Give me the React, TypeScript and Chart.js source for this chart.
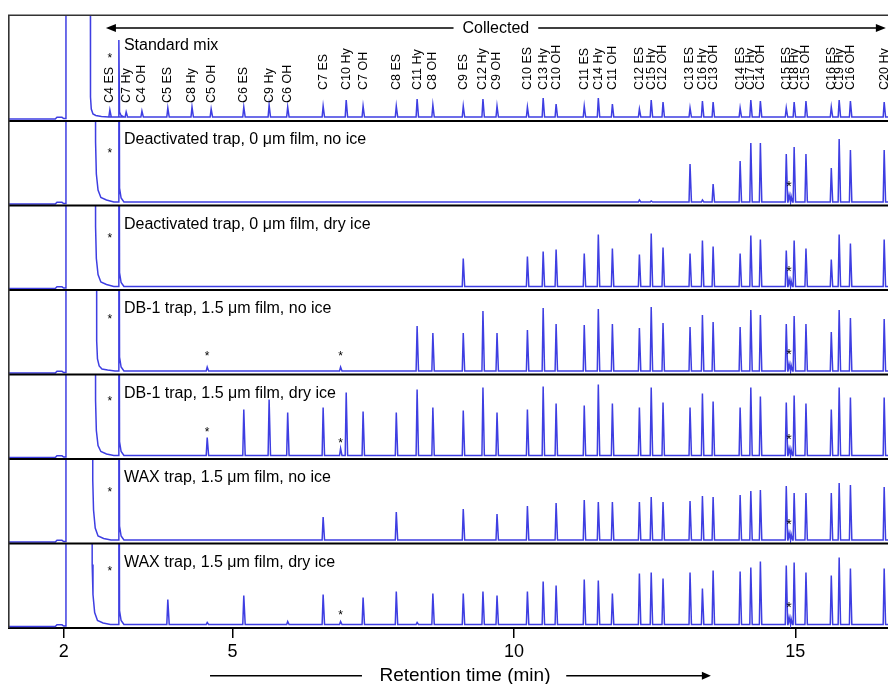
import React, { useEffect, useRef } from "react";
import { Chart, registerables } from "chart.js";

Chart.register(...registerables);

// ---------------- data ----------------
const PANEL_TITLES = [
  "Standard mix",
  "Deactivated trap, 0 \u03bcm film, no ice",
  "Deactivated trap, 0 \u03bcm film, dry ice",
  "DB-1 trap, 1.5 \u03bcm film, no ice",
  "DB-1 trap, 1.5 \u03bcm film, dry ice",
  "WAX trap, 1.5 \u03bcm film, no ice",
  "WAX trap, 1.5 \u03bcm film, dry ice",
];

const COMPOUNDS = [
  "C4 ES", "C7 Hy", "C4 OH", "C5 ES", "C8 Hy", "C5 OH", "C6 ES", "C9 Hy", "C6 OH",
  "C7 ES", "C10 Hy", "C7 OH", "C8 ES", "C11 Hy", "C8 OH", "C9 ES", "C12 Hy", "C9 OH",
  "C10 ES", "C13 Hy", "C10 OH", "C11 ES", "C14 Hy", "C11 OH", "C12 ES", "C15 Hy", "C12 OH",
  "C13 ES", "C16 Hy", "C13 OH", "C14 ES", "C17 Hy", "C14 OH", "C15 ES", "C18 Hy", "C15 OH",
  "C16 ES", "C19 Hy", "C16 OH", "C20 Hy",
];

// retention times (min)
const RETENTION = [
  2.82, 3.11, 3.39, 3.85, 4.28, 4.62, 5.2, 5.65, 5.98,
  6.61, 7.02, 7.32, 7.91, 8.28, 8.56, 9.1, 9.45, 9.7,
  10.24, 10.52, 10.75, 11.25, 11.5, 11.75, 12.23, 12.44, 12.65,
  13.13, 13.35, 13.54, 14.02, 14.21, 14.38, 14.84, 14.98, 15.19,
  15.64, 15.78, 15.98, 16.58,
];

// peak heights per trace (signal units), aligned with COMPOUNDS
const H_STANDARD = [7, 5, 6, 9, 10, 8, 10, 12, 10, 11, 17, 11, 11, 18, 12, 11, 18, 11, 10, 19, 13, 11, 19, 13, 8, 17, 15, 9, 16, 15, 9, 17, 16, 9, 15, 16, 10, 17, 16, 15];
const H_DEACT_NOICE = [0, 0, 0, 0, 0, 0, 0, 0, 0, 0, 0, 0, 0, 0, 0, 0, 0, 0, 0, 0, 0, 0, 0, 0, 2, 1, 0, 38, 2, 18, 41, 59, 59, 48, 55, 48, 34, 63, 52, 52];
const H_DEACT_DRY = [0, 0, 0, 0, 0, 0, 0, 0, 0, 0, 0, 0, 0, 0, 0, 28, 0, 0, 30, 35, 37, 33, 52, 38, 32, 53, 39, 33, 46, 40, 33, 51, 47, 36, 46, 38, 27, 52, 43, 47];
const H_DB1_NOICE = [0, 0, 0, 0, 0, 0, 0, 0, 0, 0, 0, 0, 0, 45, 38, 38, 60, 38, 41, 63, 47, 46, 62, 47, 43, 64, 48, 44, 56, 49, 44, 61, 56, 47, 55, 47, 39, 61, 53, 52];
const H_DB1_DRY = [0, 0, 0, 0, 0, 0, 46, 56, 43, 48, 63, 44, 43, 66, 48, 45, 68, 43, 46, 69, 52, 50, 71, 52, 48, 68, 53, 48, 62, 54, 48, 68, 59, 53, 60, 52, 46, 68, 58, 58];
const H_WAX_NOICE = [0, 0, 0, 0, 0, 0, 0, 0, 0, 23, 0, 0, 28, 0, 0, 31, 0, 26, 34, 0, 37, 40, 38, 38, 38, 43, 38, 39, 44, 43, 45, 49, 50, 54, 47, 47, 47, 57, 55, 53];
const H_WAX_DRY = [0, 0, 0, 25, 0, 0, 29, 0, 3, 30, 0, 27, 33, 2, 31, 31, 33, 29, 33, 43, 39, 45, 44, 31, 51, 52, 46, 52, 36, 54, 53, 57, 63, 59, 62, 52, 49, 67, 56, 56];

// unlabelled (asterisked) peaks: [time, height]
const ART_STANDARD: number[][] = [];
const ART_DEACT_NOICE = [[14.89, 7], [14.925, 6]];
const ART_DEACT_DRY = [[14.89, 7], [14.925, 6]];
const ART_DB1_NOICE = [[4.55, 4], [6.92, 4], [14.89, 7], [14.925, 6]];
const ART_DB1_DRY = [[4.55, 18], [6.92, 7], [14.89, 7], [14.925, 6]];
const ART_WAX_NOICE = [[14.89, 7], [14.925, 6]];
const ART_WAX_DRY = [[4.55, 2], [6.92, 3], [14.89, 7], [14.925, 6]];

// asterisk markers: [time, height above baseline]
const MARK_STANDARD = [[2.82, 62]];
const MARK_DEACT_NOICE = [[2.82, 52], [14.89, 19]];
const MARK_DEACT_DRY = [[2.82, 51], [14.89, 18]];
const MARK_DB1_NOICE = [[2.82, 55], [4.55, 18], [6.92, 18], [14.89, 20]];
const MARK_DB1_DRY = [[2.82, 57], [4.55, 26], [6.92, 15], [14.89, 19]];
const MARK_WAX_NOICE = [[2.82, 51], [14.89, 19]];
const MARK_WAX_DRY = [[2.82, 56], [6.92, 12], [14.89, 20]];

// solvent front: baseline before injection peak, then off-scale until SOLVENT_END, then tail
const PRE_T = [1.0, 1.85, 1.88, 1.97, 2.0, 2.035];
const PRE_H = [-2, -2, -0.3, -0.3, -1.5, -1.5];
const SOLVENT_START = 2.04;
const SOLVENT_END = [2.47, 2.56, 2.56, 2.58, 2.56, 2.51, 2.5];
const TAIL_DT = [0.006, 0.02, 0.05, 0.1, 0.2, 0.33];
const SOLVENT_TAIL = [
  [20, 8, 3, 1.5, 0.5, 0],
  [60, 28, 12, 4.5, 2, 0],
  [60, 28, 12, 4.5, 2, 0],
  [30, 12, 5, 2, 1, 0],
  [55, 25, 10, 4, 1.5, 0],
  [60, 30, 12, 4, 1.5, 0],
  [60, 30, 12, 4, 1.5, 0],
];
const SPIKE_T = 2.98;
const SPIKE_H = [77, 300, 300, 300, 300, 300, 300];
const SPIKE_DT = [0.012, 0.04, 0.09];
const SPIKE_TAIL = [
  [5, 1.5, 0],
  [14, 4, 0],
  [14, 4, 0],
  [14, 4, 0],
  [14, 4, 0],
  [14, 4, 0],
  [14, 4, 0],
];

const HEIGHTS = [H_STANDARD, H_DEACT_NOICE, H_DEACT_DRY, H_DB1_NOICE, H_DB1_DRY, H_WAX_NOICE, H_WAX_DRY];
const ARTIFACTS = [ART_STANDARD, ART_DEACT_NOICE, ART_DEACT_DRY, ART_DB1_NOICE, ART_DB1_DRY, ART_WAX_NOICE, ART_WAX_DRY];
const MARKS = [MARK_STANDARD, MARK_DEACT_NOICE, MARK_DEACT_DRY, MARK_DB1_NOICE, MARK_DB1_DRY, MARK_WAX_NOICE, MARK_WAX_DRY];

const X_TICKS = [2, 5, 10, 15];
const X_TITLE = "Retention time (min)";
const COLLECTED = "Collected";

// ---------------- layout ----------------
const X_MIN = 1.01;
const X_MAX = 16.79;
const PANEL = 84.5; // signal units per stacked panel
const Y_MAX = 613;
const BASE = 3.5;
const OFFSCALE = 400;
const FONT = "'Liberation Sans', Arial, Helvetica, sans-serif";
const TRACE = "rgb(62,62,226)";

const panelBottom = (p: number) => (6 - p) * PANEL;
const panelTop = (p: number) => (p === 0 ? Y_MAX : panelBottom(p) + PANEL);
const baseOf = (p: number) => panelBottom(p) + (p === 0 ? 4 : BASE);

function buildTrace(p: number) {
  const off = baseOf(p);
  const pts: { x: number; y: number }[] = [];
  const add = (t: number, h: number) => pts.push({ x: t, y: off + h });
  PRE_T.forEach((t, i) => add(t, PRE_H[i]));
  add(SOLVENT_START, OFFSCALE);
  add(SOLVENT_END[p], OFFSCALE);
  TAIL_DT.forEach((dt, i) => add(SOLVENT_END[p] + dt, SOLVENT_TAIL[p][i]));
  add(SPIKE_T - 0.015, 0);
  add(SPIKE_T, SPIKE_H[p]);
  SPIKE_DT.forEach((dt, i) => add(SPIKE_T + dt, SPIKE_TAIL[p][i]));
  const peaks: number[][] = [];
  HEIGHTS[p].forEach((h, i) => {
    if (h > 0) peaks.push([RETENTION[i], h]);
  });
  ARTIFACTS[p].forEach((a) => peaks.push(a));
  peaks.sort((a, b) => a[0] - b[0]);
  peaks.forEach(([t, h]) => {
    add(t - 0.018, 0);
    add(t, h);
    add(t + 0.025, 0);
  });
  add(X_MAX + 0.2, 0);
  return pts;
}

function drawStar(ctx: CanvasRenderingContext2D, x: number, yCenter: number, size: number) {
  ctx.font = `${size}px ${FONT}`;
  ctx.textAlign = "center";
  ctx.textBaseline = "alphabetic";
  ctx.fillText("*", x, yCenter + size * 0.57);
}

const panelPlugin = {
  id: "panels",
  beforeDatasetDraw(chart: any, args: any) {
    const { ctx, chartArea, scales } = chart;
    const y = scales.y;
    const p = args.index;
    const top = y.getPixelForValue(panelTop(p));
    const bottom = y.getPixelForValue(panelBottom(p));
    ctx.save();
    ctx.beginPath();
    ctx.rect(chartArea.left, top, chartArea.right - chartArea.left, bottom - top);
    ctx.clip();
  },
  afterDatasetDraw(chart: any) {
    chart.ctx.restore();
  },
  afterDraw(chart: any) {
    const { ctx, chartArea, scales } = chart;
    const x = scales.x;
    const y = scales.y;
    const L = chartArea.left;
    const R = chartArea.right;
    ctx.save();
    // separators
    ctx.strokeStyle = "#000";
    ctx.lineWidth = 1.8;
    for (let k = 1; k <= 6; k++) {
      const yy = y.getPixelForValue(k * PANEL);
      ctx.beginPath();
      ctx.moveTo(L, yy);
      ctx.lineTo(R, yy);
      ctx.stroke();
    }
    // frame left & top
    ctx.strokeStyle = "#333";
    ctx.lineWidth = 1.6;
    ctx.beginPath();
    ctx.moveTo(L + 0.8, chartArea.top);
    ctx.lineTo(L + 0.8, chartArea.bottom);
    ctx.moveTo(L, chartArea.top + 0.3);
    ctx.lineTo(R, chartArea.top + 0.3);
    ctx.stroke();

    ctx.fillStyle = "#000";
    // panel titles
    const titleX = x.getPixelForValue(3.07);
    PANEL_TITLES.forEach((title, p) => {
      ctx.font = `16px ${FONT}`;
      ctx.textAlign = "left";
      ctx.textBaseline = "alphabetic";
      const ty = p === 0 ? chartArea.top + 35 : y.getPixelForValue(panelTop(p)) + 23;
      ctx.fillText(title, titleX, ty);
      // asterisks
      MARKS[p].forEach(([t, h]) => {
        const sx = x.getPixelForValue(t);
        const sy = y.getPixelForValue(baseOf(p) + h);
        drawStar(ctx, sx, sy, t > 14 ? 14 : 12);
      });
    });

    // compound labels (rotated) in top panel
    ctx.font = `12.5px ${FONT}`;
    ctx.textAlign = "left";
    ctx.textBaseline = "middle";
    COMPOUNDS.forEach((name, i) => {
      const lx = x.getPixelForValue(RETENTION[i]);
      const lift = i < 9 ? 14 : 27;
      const ly = y.getPixelForValue(baseOf(0) + lift);
      ctx.save();
      ctx.translate(lx, ly);
      ctx.rotate(-Math.PI / 2);
      ctx.fillText(name, 0, 0);
      ctx.restore();
    });

    // "Collected" double arrow
    const ay = chartArea.top + 13;
    const aL = x.getPixelForValue(2.75);
    const aR = x.getPixelForValue(16.61);
    const mid = (aL + aR) / 2;
    ctx.font = `16px ${FONT}`;
    const tw = ctx.measureText(COLLECTED).width;
    ctx.strokeStyle = "#000";
    ctx.lineWidth = 1.5;
    ctx.beginPath();
    ctx.moveTo(aL + 6, ay);
    ctx.lineTo(mid - tw / 2 - 9, ay);
    ctx.moveTo(mid + tw / 2 + 9, ay);
    ctx.lineTo(aR - 6, ay);
    ctx.stroke();
    ctx.beginPath();
    ctx.moveTo(aL, ay);
    ctx.lineTo(aL + 10, ay - 4);
    ctx.lineTo(aL + 10, ay + 4);
    ctx.closePath();
    ctx.moveTo(aR, ay);
    ctx.lineTo(aR - 10, ay - 4);
    ctx.lineTo(aR - 10, ay + 4);
    ctx.closePath();
    ctx.fill();
    ctx.textAlign = "center";
    ctx.textBaseline = "middle";
    ctx.fillText(COLLECTED, mid, ay + 1);

    // x-axis title with arrows
    const ty = chartArea.bottom + 47.7;
    const tL1 = x.getPixelForValue(4.6);
    const tL2 = x.getPixelForValue(7.3);
    const tMid = x.getPixelForValue(9.13);
    const tR1 = x.getPixelForValue(10.93);
    const tR2 = x.getPixelForValue(13.5);
    ctx.beginPath();
    ctx.moveTo(tL1, ty);
    ctx.lineTo(tL2, ty);
    ctx.moveTo(tR1, ty);
    ctx.lineTo(tR2 - 5, ty);
    ctx.stroke();
    ctx.beginPath();
    ctx.moveTo(tR2, ty);
    ctx.lineTo(tR2 - 9, ty - 4);
    ctx.lineTo(tR2 - 9, ty + 4);
    ctx.closePath();
    ctx.fill();
    ctx.font = `19px ${FONT}`;
    ctx.textAlign = "center";
    ctx.textBaseline = "alphabetic";
    ctx.fillText(X_TITLE, tMid, chartArea.bottom + 52.5);
    ctx.restore();
  },
};

export default function App() {
  const ref = useRef<HTMLCanvasElement | null>(null);
  useEffect(() => {
    document.body.style.overflow = "hidden";
    if (!ref.current) return;
    Chart.defaults.font.family = FONT;
    const datasets = PANEL_TITLES.map((label, p) => ({
      label,
      data: buildTrace(p),
      borderColor: TRACE,
      borderWidth: 1.5,
      pointRadius: 0,
      fill: false,
      tension: 0,
    }));
    const chart = new Chart(ref.current, {
      type: "line",
      data: { datasets },
      options: {
        animation: false,
        responsive: false,
        devicePixelRatio: 1,
        events: [],
        layout: { padding: { top: 7, left: 0, right: 0, bottom: 0 } },
        plugins: { legend: { display: false }, tooltip: { enabled: false } },
        scales: {
          x: {
            type: "linear",
            min: X_MIN,
            max: X_MAX,
            afterBuildTicks: (s: any) => {
              s.ticks = X_TICKS.map((v) => ({ value: v }));
            },
            afterFit: (s: any) => {
              s.height = 56;
            },
            grid: { drawOnChartArea: false, drawTicks: true, tickLength: 10, color: "#000", lineWidth: 1.5 },
            border: { display: true, color: "#000", width: 2 },
            ticks: {
              color: "#000",
              font: { size: 18, family: FONT },
              padding: 3,
              maxRotation: 0,
              autoSkip: false,
              callback: (v: any) => String(v),
            },
          },
          y: { type: "linear", min: 0, max: Y_MAX, display: false },
        },
      } as any,
      plugins: [panelPlugin as any],
    });
    return () => chart.destroy();
  }, []);
  return (
    <div style={{ width: 888, height: 676 }}>
      <canvas ref={ref} width={888} height={676} style={{ display: "block", width: 888, height: 676 }} />
    </div>
  );
}
